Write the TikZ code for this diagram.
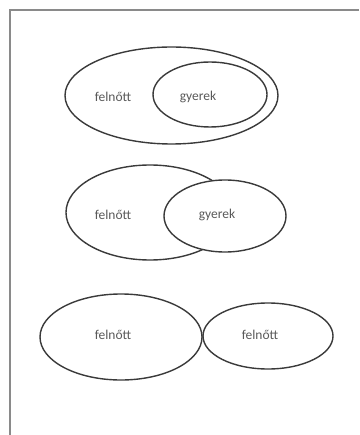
\documentclass[tikz,border=0pt]{standalone}
\usepackage{fontspec}
\setmainfont{Carlito}
\usetikzlibrary{shapes.geometric}
\definecolor{ink}{HTML}{3A3A3A}
\definecolor{muted}{HTML}{5A5A5A}
\definecolor{frame}{HTML}{8A8A8A}
\tikzset{
  set/.style={
    ellipse,
    draw=ink,
    line width=1.4pt,
    fill=white,
    inner sep=0pt
  },
  settext/.style={
    font=\fontsize{13.5}{16}\selectfont,
    text=muted
  },
  border/.style={
    draw=frame,
    line width=1.3pt
  }
}
\begin{document}
\begin{tikzpicture}[x=1pt,y=-1pt]
  \useasboundingbox (0,0) rectangle (359,435);
  \coordinate (corner) at (10,10);
  \coordinate (topend) at (359,10);
  \coordinate (leftend) at (10,435);
  \draw[border] (topend) -- (corner) -- (leftend);

  % subset
  \node[set, minimum width=213pt, minimum height=97pt] (adult1) at (171.5,95.5) {};
  \node[set, minimum width=114pt, minimum height=65pt] (child1) at (210,94.5) {};
  \node[settext] (adult1txt) at (113,97) {felnőtt};
  \node[settext] (child1txt) at (198,97) {gyerek};

  % overlap
  \node[set, minimum width=168pt, minimum height=95pt] (adult2) at (150,212.5) {};
  \node[set, minimum width=122pt, minimum height=72pt] (child2) at (225,216) {};
  \node[settext] (adult2txt) at (113,215) {felnőtt};
  \node[settext] (child2txt) at (217,215) {gyerek};

  % disjoint
  \node[set, minimum width=162pt, minimum height=86pt] (adult3) at (121,337) {};
  \node[set, minimum width=130pt, minimum height=66pt] (adult4) at (268,336) {};
  \node[settext] (adult3txt) at (113,335) {felnőtt};
  \node[settext] (adult4txt) at (260,335) {felnőtt};
\end{tikzpicture}
\end{document}
